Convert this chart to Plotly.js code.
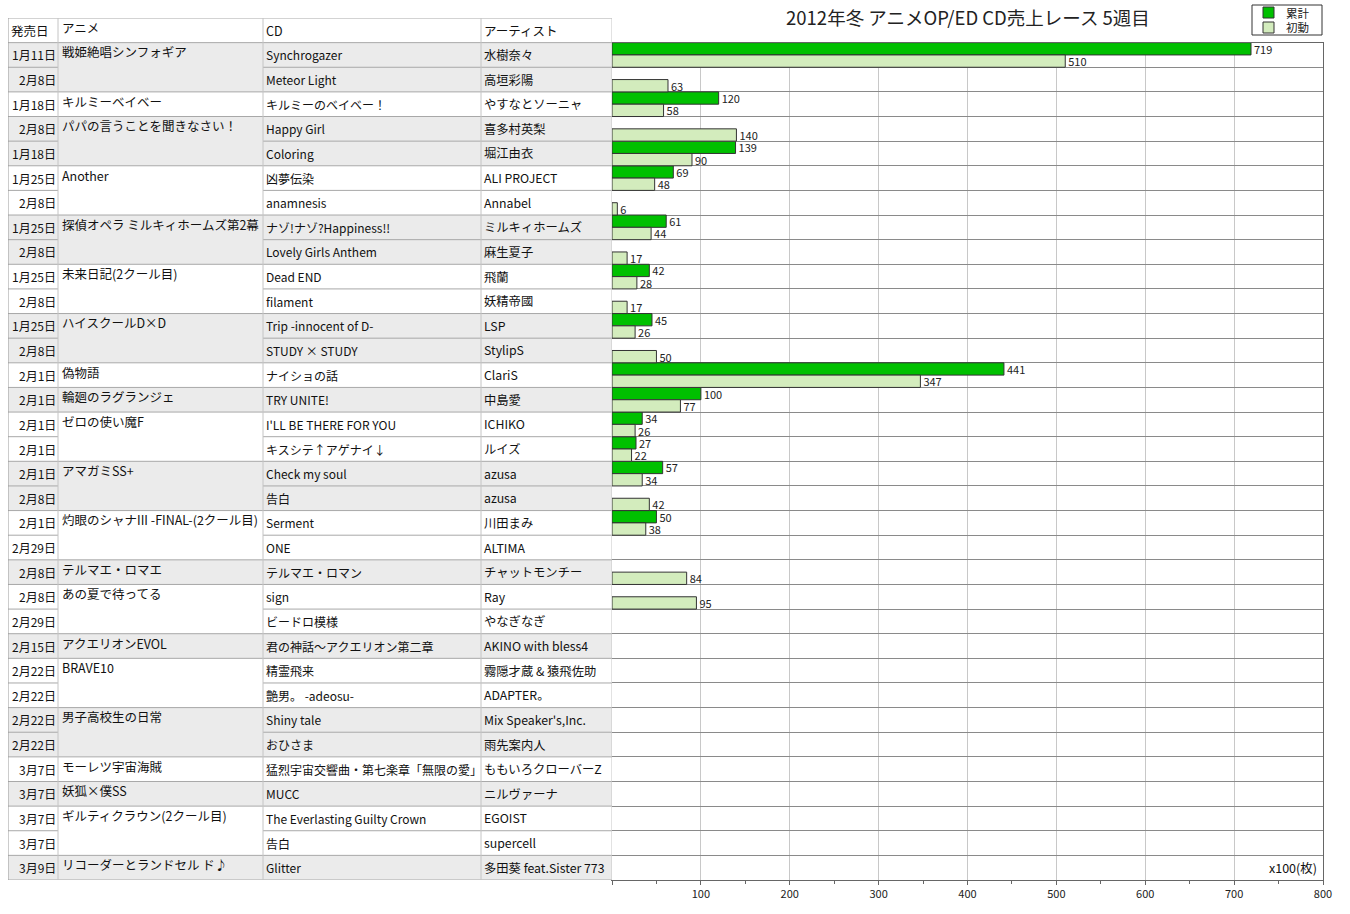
<!DOCTYPE html>
<html>
<head>
<meta charset="utf-8">
<script src="https://cdn.plot.ly/plotly-3.0.1.min.js"></script>
<style>
  body { margin: 0; background: #fff; }
  #plot { width: 1350px; height: 914px; }
</style>
</head>
<body>
<div id="plot"></div>
<script>
// table columns, one entry per row
var dates = ['1月11日','2月8日','1月18日','2月8日','1月18日','1月25日','2月8日','1月25日','2月8日',
  '1月25日','2月8日','1月25日','2月8日','2月1日','2月1日','2月1日','2月1日','2月1日','2月8日',
  '2月1日','2月29日','2月8日','2月8日','2月29日','2月15日','2月22日','2月22日','2月22日','2月22日',
  '3月7日','3月7日','3月7日','3月7日','3月9日'];
var cds = ['Synchrogazer','Meteor Light','キルミーのベイベー！','Happy Girl','Coloring','凶夢伝染',
  'anamnesis','ナゾ!ナゾ?Happiness!!','Lovely Girls Anthem','Dead END','filament',
  'Trip -innocent of D-','STUDY × STUDY','ナイショの話','TRY UNITE!','I\'LL BE THERE FOR YOU',
  'キスシテ↑アゲナイ↓','Check my soul','告白','Serment','ONE','テルマエ・ロマン','sign','ビードロ模様',
  '君の神話～アクエリオン第二章','精霊飛来','艶男。 -adeosu-','Shiny tale','おひさま',
  '猛烈宇宙交響曲・第七楽章「無限の愛」','MUCC','The Everlasting Guilty Crown','告白','Glitter'];
var artists = ['水樹奈々','高垣彩陽','やすなとソーニャ','喜多村英梨','堀江由衣','ALI PROJECT','Annabel',
  'ミルキィホームズ','麻生夏子','飛蘭','妖精帝國','LSP','StylipS','ClariS','中島愛','ICHIKO','ルイズ',
  'azusa','azusa','川田まみ','ALTIMA','チャットモンチー','Ray','やなぎなぎ','AKINO with bless4',
  '霧隠才蔵 & 猿飛佐助','ADAPTER。','Mix Speaker\'s,Inc.','雨先案内人','ももいろクローバーZ',
  'ニルヴァーナ','EGOIST','supercell','多田葵 feat.Sister 773'];

// anime titles and how many rows each one spans
var animes = ['戦姫絶唱シンフォギア','キルミーベイベー','パパの言うことを聞きなさい！','Another',
  '探偵オペラ ミルキィホームズ第2幕','未来日記(2クール目)','ハイスクールD×D','偽物語','輪廻のラグランジェ',
  'ゼロの使い魔F','アマガミSS+','灼眼のシャナIII -FINAL-(2クール目)','テルマエ・ロマエ','あの夏で待ってる',
  'アクエリオンEVOL','BRAVE10','男子高校生の日常','モーレツ宇宙海賊','妖狐×僕SS',
  'ギルティクラウン(2クール目)','リコーダーとランドセル ド♪'];
var animeRows = [2,1,2,2,2,2,2,1,1,2,2,2,1,2,1,2,2,1,1,2,1];

var headers = ['発売日','アニメ','CD','アーティスト'];

// sales, x100 copies
var ruikei = [719,null,120,null,139,69,null,61,null,42,null,45,null,441,100,34,27,57,null,50,
  null,null,null,null,null,null,null,null,null,null,null,null,null,null];
var shodo = [510,63,58,140,90,48,6,44,17,28,17,26,50,347,77,26,22,34,42,38,
  null,84,95,null,null,null,null,null,null,null,null,null,null,null];

var seriesNames = ['累計','初動'];
var seriesColors = ['#00c000','#d3ecbd'];

var tickVals = [0,100,200,300,400,500,600,700,800];

var nRows = dates.length;
var rows = [];
for (var i=0; i<nRows; ++i) rows.push(i);

var FONT = '"Noto Sans CJK JP", "Noto Sans", sans-serif';
var HLINE = '#a8a8a8', VLINE = '#c4c4c4';
var colX = [0, 50, 255, 473, 604];   // table column edges (table units = px from left edge)

// plot area is 8..1323 x 18..880 px; helpers for the hand-made legend box
function px(x) { return (x-8)/1315; }
function py(y) { return (880-y)/862; }

function labels(v) { return v.map(function(d){ return d===null ? '' : String(d); }); }

function cell(x, y, text, anchor, size, yshift) {
  return {xref: 'x2', yref: 'y2', x: x, y: y, yshift: yshift || 0, xanchor: anchor, yanchor: 'middle',
    text: text, showarrow: false, borderpad: 0, font: {family: FONT, size: size, color: '#111'}};
}

var barSeries = [ruikei, shodo];
var plotlyData = [];
for (var s=0; s<2; ++s)
{
  plotlyData.push({
    type: 'bar', orientation: 'h', name: seriesNames[s], showlegend: false,
    y: rows, x: barSeries[s], offset: s===0 ? -0.5 : 0, width: 0.5,
    marker: {color: seriesColors[s], line: {color: '#333', width: 1}},
    text: labels(barSeries[s]), textposition: 'outside', cliponaxis: false, constraintext: 'none',
    textfont: {family: FONT, size: 11, color: '#222'}, hoverinfo: 'skip'
  });
}
// keeps the table subplot alive
plotlyData.push({type: 'scatter', mode: 'markers', x: [0], y: [0], xaxis: 'x2', yaxis: 'y2',
  marker: {opacity: 0}, showlegend: false, hoverinfo: 'skip'});

var shapes = [];
var annotations = [];

// group backgrounds + anime titles
var groupOf = [];
var start = 0;
for (var g=0; g<animes.length; ++g)
{
  shapes.push({type: 'rect', xref: 'x2', yref: 'y2', layer: 'below',
    x0: colX[0], x1: colX[4], y0: start-0.5, y1: start+animeRows[g]-0.5,
    fillcolor: g%2===0 ? '#ebebeb' : '#ffffff', line: {width: 0}});
  annotations.push(cell(colX[1]+3, start, animes[g], 'left', 12.5, 3));
  for (var k=0; k<animeRows[g]; ++k) groupOf.push(g);
  start += animeRows[g];
}

// horizontal row lines in the table (none through the merged anime cell)
for (var i=-1; i<=nRows; ++i)
{
  var y = i-0.5;
  if (i>0 && i<nRows && groupOf[i]===groupOf[i-1])
  {
    shapes.push({type: 'line', xref: 'x2', yref: 'y2', x0: colX[0], x1: colX[1], y0: y, y1: y,
      line: {color: HLINE, width: 1}});
    shapes.push({type: 'line', xref: 'x2', yref: 'y2', x0: colX[2], x1: colX[4], y0: y, y1: y,
      line: {color: HLINE, width: 1}});
  }
  else
    shapes.push({type: 'line', xref: 'x2', yref: 'y2', x0: colX[0], x1: colX[4], y0: y, y1: y,
      line: {color: HLINE, width: 1}});
}
// column lines
for (var c=0; c<colX.length; ++c)
  shapes.push({type: 'line', xref: 'x2', yref: 'y2', x0: colX[c], x1: colX[c], y0: -1.5, y1: nRows-0.5,
    line: {color: c===0 ? '#999' : VLINE, width: 1}});

// header
var headX = [2, colX[1]+3, colX[2]+2, colX[3]+2];
for (var h=0; h<headers.length; ++h)
  annotations.push(cell(headX[h], -1, headers[h], 'left', 12.5, h===1 ? 3 : 0));

// body cells
for (var i=0; i<nRows; ++i)
{
  annotations.push(cell(colX[1]-1, i, dates[i], 'right', 12));
  annotations.push(cell(colX[2]+2, i, cds[i], 'left', 12));
  annotations.push(cell(colX[3]+2, i, artists[i], 'left', 12.3));
}

annotations.push({xref: 'x', yref: 'y', x: 800, xshift: -5, y: nRows-1, xanchor: 'right', yanchor: 'middle',
  text: 'x100(枚)', showarrow: false, borderpad: 0, font: {family: FONT, size: 12.5, color: '#111'}});

// legend box (top right, above the bar area)
shapes.push({type: 'rect', xref: 'paper', yref: 'paper', x0: px(1252), x1: px(1322), y0: py(35), y1: py(5),
  fillcolor: '#fff', line: {color: '#333', width: 1}});
var legY = [12.5, 27.5];
for (var s=0; s<2; ++s)
{
  shapes.push({type: 'rect', xref: 'paper', yref: 'paper',
    x0: px(1263), x1: px(1274), y0: py(legY[s]+5.5), y1: py(legY[s]-5.5),
    fillcolor: seriesColors[s], line: {color: '#333', width: 1}});
  annotations.push({xref: 'paper', yref: 'paper', x: px(1285), y: py(legY[s]), xanchor: 'left', yanchor: 'middle',
    text: seriesNames[s], showarrow: false, borderpad: 0, font: {family: FONT, size: 11.5, color: '#222'}});
}

var rowEdges = [];
for (var i=0; i<=nRows; ++i) rowEdges.push(i-0.5);

var layout = {
  width: 1350, height: 914,
  margin: {l: 8, r: 27, t: 18, b: 34},
  paper_bgcolor: '#fff', plot_bgcolor: '#fff',
  font: {family: FONT, color: '#222'},
  title: {text: '2012年冬 アニメOP/ED CD売上レース 5週目', xref: 'paper', x: 0.73, xanchor: 'center',
    yref: 'container', y: 0.98, yanchor: 'middle', font: {family: FONT, size: 18.5, color: '#222'}},
  barmode: 'overlay',
  showlegend: false,
  xaxis: {
    domain: [604/1315, 1], anchor: 'y', range: [0, 800],
    tickmode: 'array', tickvals: tickVals,
    ticktext: tickVals.map(function(v){ return v===0 ? '' : String(v); }),
    showgrid: true, gridcolor: '#c8c8c8', zeroline: false,
    showline: true, linecolor: '#666', mirror: true,
    ticks: 'outside', ticklen: 4, tickcolor: '#666',
    minor: {tickmode: 'linear', tick0: 0, dtick: 50, ticks: 'outside', ticklen: 3, tickcolor: '#666', showgrid: false},
    tickfont: {family: FONT, size: 11, color: '#222'}
  },
  yaxis: {
    domain: [0, 34/35], anchor: 'x', range: [nRows-0.5, -0.5],
    tickmode: 'array', tickvals: rowEdges, showticklabels: false, ticks: '',
    showgrid: true, gridcolor: '#8a8a8a', zeroline: false,
    showline: true, linecolor: '#666', mirror: true
  },
  xaxis2: {domain: [0, 604/1315], anchor: 'y2', range: [0, 604], visible: false, fixedrange: true},
  yaxis2: {domain: [0, 1], anchor: 'x2', range: [nRows-0.5, -1.5], visible: false, fixedrange: true},
  shapes: shapes,
  annotations: annotations
};

Plotly.newPlot(document.getElementById('plot'), plotlyData, layout, {displayModeBar: false, staticPlot: true});
</script>
</body>
</html>
